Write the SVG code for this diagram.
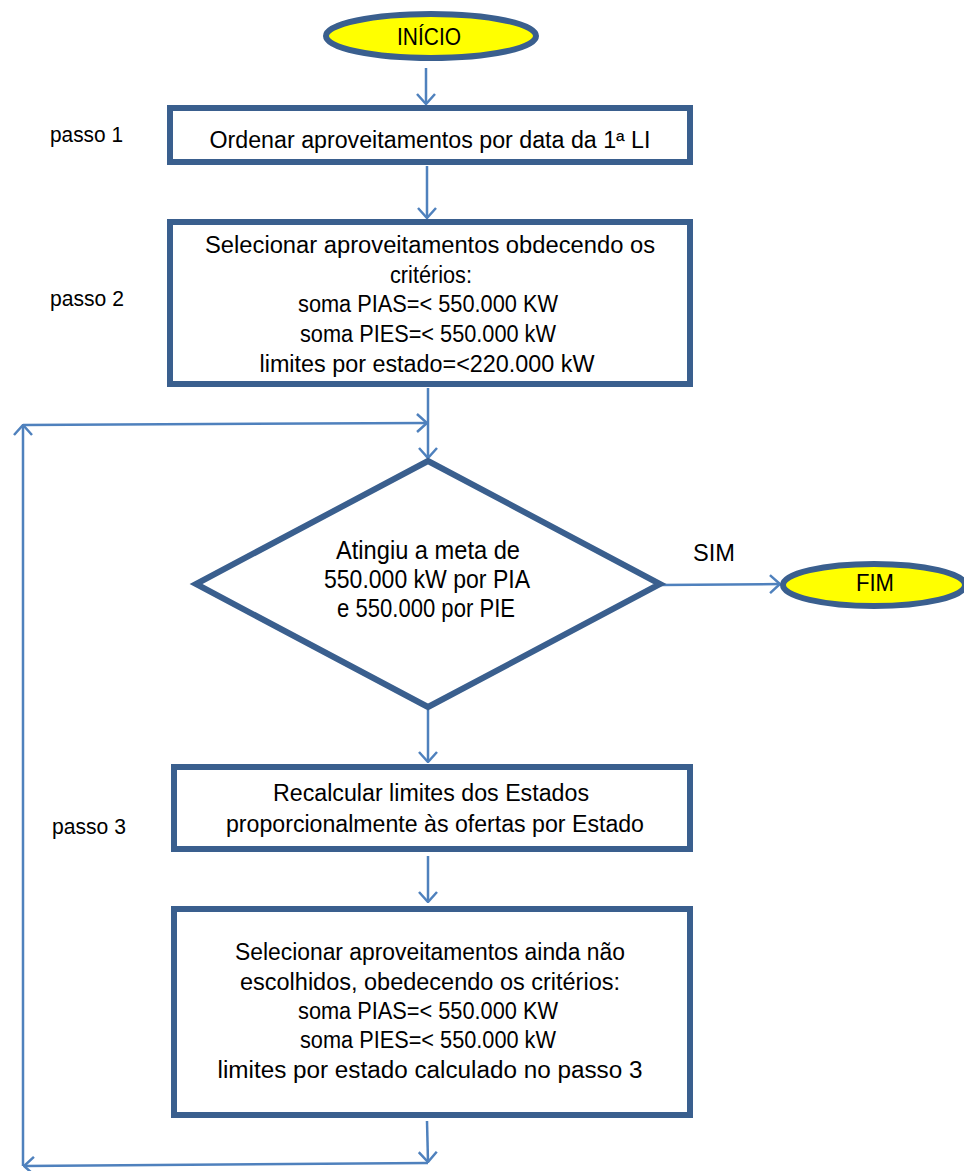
<svg xmlns="http://www.w3.org/2000/svg" width="964" height="1171" viewBox="0 0 964 1171">
<style>
.box{fill:#fff;stroke:#3A5F8E;stroke-width:6;stroke-linejoin:miter}
.term{fill:#FFFF00;stroke:#3A5F8E;stroke-width:6}
.con{fill:none;stroke:#4F81BD;stroke-width:2.5}
text{font-family:"Liberation Sans",Arial,sans-serif;font-size:23px;fill:#000;text-anchor:middle}
.lbl{text-anchor:start;font-size:22px}
.big{font-size:25px}
</style>
<defs>
<marker id="ah" viewBox="0 0 12 20" refX="11" refY="10" markerWidth="12" markerHeight="20" markerUnits="userSpaceOnUse" orient="auto">
<path d="M1,1 L11,10 L1,19" fill="none" stroke="#4F81BD" stroke-width="2.5"/>
</marker>
</defs>
<rect width="964" height="1171" fill="#fff"/>
<g id="connectors">
<line class="con" x1="426" y1="68" x2="426" y2="104" marker-end="url(#ah)"/>
<line class="con" x1="427" y1="166" x2="427" y2="218" marker-end="url(#ah)"/>
<line class="con" x1="428" y1="388" x2="428" y2="458" marker-end="url(#ah)"/>
<line class="con" x1="660" y1="585" x2="780" y2="584" marker-end="url(#ah)"/>
<line class="con" x1="428" y1="710" x2="428" y2="762" marker-end="url(#ah)"/>
<line class="con" x1="428" y1="856" x2="428" y2="902" marker-end="url(#ah)"/>
<line class="con" x1="427" y1="1121" x2="428" y2="1162" marker-end="url(#ah)"/>
<line class="con" x1="428" y1="1163" x2="24" y2="1166" marker-end="url(#ah)"/>
<line class="con" x1="23" y1="1166" x2="23" y2="425" marker-end="url(#ah)"/>
<line class="con" x1="23" y1="425" x2="427" y2="423" marker-end="url(#ah)"/>
</g>
<g id="inicio">
<ellipse class="term" cx="431" cy="36" rx="105" ry="22"/>
<text x="429" y="45" textLength="64" lengthAdjust="spacingAndGlyphs">INÍCIO</text>
</g>
<g id="passo1"><text class="lbl" x="50" y="142" textLength="73" lengthAdjust="spacingAndGlyphs">passo 1</text></g>
<g id="step1">
<rect class="box" x="170" y="108" width="520" height="54"/>
<text x="430" y="148" textLength="441" lengthAdjust="spacingAndGlyphs">Ordenar aproveitamentos por data da 1ª LI</text>
</g>
<g id="passo2"><text class="lbl" x="50" y="306" textLength="74" lengthAdjust="spacingAndGlyphs">passo 2</text></g>
<g id="step2">
<rect class="box" x="170" y="222" width="520" height="162"/>
<text x="430" y="253" textLength="450" lengthAdjust="spacingAndGlyphs">Selecionar aproveitamentos obdecendo os</text>
<text x="431" y="283" textLength="82" lengthAdjust="spacingAndGlyphs">critérios:</text>
<text x="428" y="312" textLength="260" lengthAdjust="spacingAndGlyphs">soma PIAS=&lt; 550.000 KW</text>
<text x="428" y="342" textLength="256" lengthAdjust="spacingAndGlyphs">soma PIES=&lt; 550.000 kW</text>
<text x="427" y="372" textLength="335" lengthAdjust="spacingAndGlyphs">limites por estado=&lt;220.000 kW</text>
</g>
<g id="decision">
<polygon class="box" points="428,461 660,584 428,707 196,584"/>
<text class="big" x="428" y="559" textLength="184" lengthAdjust="spacingAndGlyphs">Atingiu a meta de</text>
<text class="big" x="427" y="588" textLength="206" lengthAdjust="spacingAndGlyphs">550.000 kW por PIA</text>
<text class="big" x="426" y="617" textLength="178" lengthAdjust="spacingAndGlyphs">e 550.000 por PIE</text>
</g>
<g id="sim"><text x="714" y="561" textLength="42" lengthAdjust="spacingAndGlyphs">SIM</text></g>
<g id="fim">
<ellipse class="term" cx="874" cy="585" rx="91" ry="21"/>
<text x="875" y="591" textLength="38" lengthAdjust="spacingAndGlyphs">FIM</text>
</g>
<g id="passo3"><text class="lbl" x="52" y="834" textLength="74" lengthAdjust="spacingAndGlyphs">passo 3</text></g>
<g id="step3">
<rect class="box" x="174" y="767" width="516" height="82"/>
<text x="431" y="801" textLength="316" lengthAdjust="spacingAndGlyphs">Recalcular limites dos Estados</text>
<text x="435" y="832" textLength="418" lengthAdjust="spacingAndGlyphs">proporcionalmente às ofertas por Estado</text>
</g>
<g id="step4">
<rect class="box" x="174" y="909" width="516" height="206"/>
<text x="430" y="960" textLength="390" lengthAdjust="spacingAndGlyphs">Selecionar aproveitamentos ainda não</text>
<text x="430" y="990" textLength="380" lengthAdjust="spacingAndGlyphs">escolhidos, obedecendo os critérios:</text>
<text x="428" y="1019" textLength="260" lengthAdjust="spacingAndGlyphs">soma PIAS=&lt; 550.000 KW</text>
<text x="428" y="1048" textLength="256" lengthAdjust="spacingAndGlyphs">soma PIES=&lt; 550.000 kW</text>
<text x="430" y="1078" textLength="425" lengthAdjust="spacingAndGlyphs">limites por estado calculado no passo 3</text>
</g>
</svg>
